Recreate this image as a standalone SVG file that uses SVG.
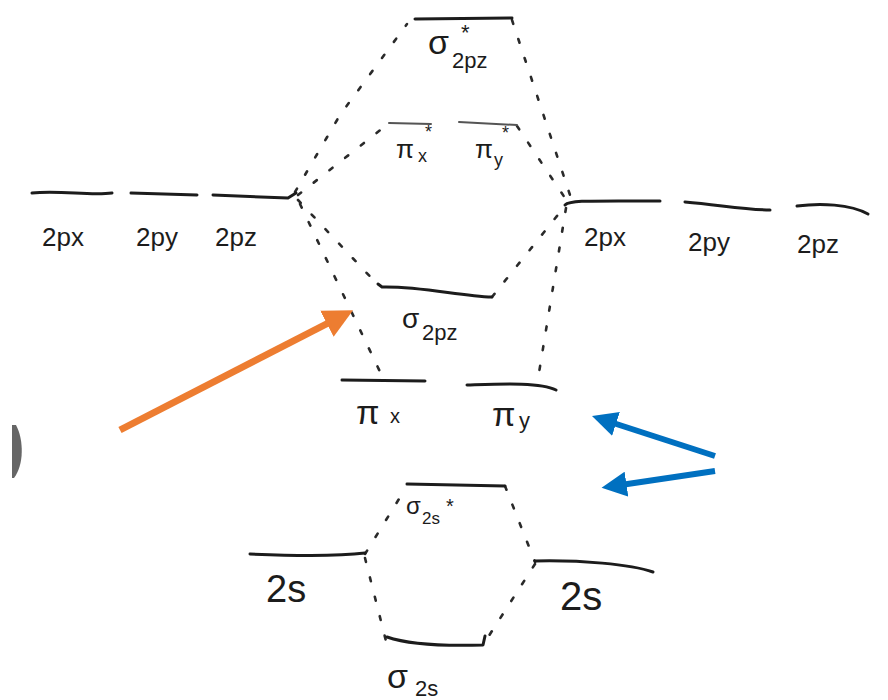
<svg xmlns="http://www.w3.org/2000/svg" width="888" height="700" viewBox="0 0 888 700">
<defs>
<style>
.lvl{fill:none;stroke:#1c1c1c;stroke-width:3;stroke-linecap:round;stroke-linejoin:round}
.lvl-f{fill:none;stroke:#555;stroke-width:2;stroke-linecap:round}
.dot{fill:none;stroke:#2a2a2a;stroke-width:2.6;stroke-linecap:round;stroke-dasharray:4 16}
.t{font-family:"Liberation Sans","DejaVu Sans",sans-serif;fill:#1c1c1c}
</style>
<marker id="ao" viewBox="0 0 10 10" refX="5" refY="5" markerWidth="4.2" markerHeight="4.2" orient="auto" markerUnits="strokeWidth">
<path d="M0,0 L10,5 L0,10 Z" fill="#ED7D31"/>
</marker>
<marker id="ab" viewBox="0 0 10 10" refX="5" refY="5" markerWidth="4.2" markerHeight="4.2" orient="auto" markerUnits="strokeWidth">
<path d="M0,0 L10,5 L0,10 Z" fill="#0070C0"/>
</marker>
</defs>
<rect width="888" height="700" fill="#ffffff"/>
<path d="M16,425 C24,440 24,465 14,478 L12,478 L12,425 Z" fill="#666"/>

<g id="connectors">
<path class="dot" d="M295,192 L340,115 L407,24"/>
<path class="dot" d="M298,195 L388,124"/>
<path class="dot" d="M298,200 L378,285"/>
<path class="dot" d="M300,204 L383,378"/>
<path class="dot" d="M512,20 L570,195"/>
<path class="dot" d="M517,126 L565,198"/>
<path class="dot" d="M492,297 L565,206"/>
<path class="dot" d="M566,208 L537,385"/>
<path class="dot" d="M365,554 L407,486"/>
<path class="dot" d="M505,486 L535,562"/>
<path class="dot" d="M365,558 L387,645"/>
<path class="dot" d="M535,564 L483,645"/>
<line x1="120" y1="430" x2="340" y2="317" stroke="#ED7D31" stroke-width="7" marker-end="url(#ao)"/>
<line x1="715" y1="456" x2="604" y2="420" stroke="#0070C0" stroke-width="6" marker-end="url(#ab)"/>
<line x1="715" y1="471" x2="614" y2="486" stroke="#0070C0" stroke-width="6" marker-end="url(#ab)"/>
</g>

<g id="sigma2pz-star">
<path class="lvl" d="M415,19 L512,18"/>
<text class="t" x="428" y="54" font-size="34">σ</text>
<text class="t" x="452" y="68" font-size="22">2pz</text>
<text class="t" x="461" y="40" font-size="22">*</text>
</g>

<g id="pi-star-x">
<path class="lvl-f" d="M389,123 L431,124"/>
<text class="t" x="396" y="158" font-size="26">π</text>
<text class="t" x="418" y="162" font-size="18">x</text>
<text class="t" x="425" y="138" font-size="18">*</text>
</g>

<g id="pi-star-y">
<path class="lvl-f" d="M459,122 L517,125"/>
<text class="t" x="475" y="158" font-size="26">π</text>
<text class="t" x="494" y="166" font-size="18">y</text>
<text class="t" x="502" y="139" font-size="18">*</text>
</g>

<g id="L-2px">
<path class="lvl" d="M32,193 C60,190 90,196 112,193"/>
<text class="t" x="42" y="246" font-size="26">2px</text>
</g>
<g id="L-2py">
<path class="lvl" d="M131,193 L197,195"/>
<text class="t" x="136" y="246" font-size="26">2py</text>
</g>
<g id="L-2pz">
<path class="lvl" d="M213,195 L288,198 L296,193"/>
<text class="t" x="215" y="246" font-size="26">2pz</text>
</g>

<g id="R-2px">
<path class="lvl" d="M565,205 C570,200 590,201 660,201"/>
<text class="t" x="584" y="246" font-size="26">2px</text>
</g>
<g id="R-2py">
<path class="lvl" d="M685,202 C720,205 745,210 770,210"/>
<text class="t" x="688" y="251" font-size="26">2py</text>
</g>
<g id="R-2pz">
<path class="lvl" d="M797,206 C820,203 850,204 868,214"/>
<text class="t" x="797" y="253" font-size="26">2pz</text>
</g>

<g id="sigma2pz">
<path class="lvl" d="M378,284 L382,287 C420,286 460,296 492,297"/>
<text class="t" x="402" y="328" font-size="28">σ</text>
<text class="t" x="422" y="340" font-size="22">2pz</text>
</g>

<g id="pi-x">
<path class="lvl" d="M342,380 L425,381"/>
<text class="t" x="356" y="424" font-size="34">π</text>
<text class="t" x="390" y="423" font-size="20">x</text>
</g>
<g id="pi-y">
<path class="lvl" d="M467,385 C500,384 540,382 556,390"/>
<text class="t" x="492" y="426" font-size="34">π</text>
<text class="t" x="519" y="428" font-size="22">y</text>
</g>

<g id="sigma2s-star">
<path class="lvl" d="M407,484 L505,486"/>
<text class="t" x="406" y="514" font-size="24">σ</text>
<text class="t" x="422" y="524" font-size="17">2s</text>
<text class="t" x="446" y="513" font-size="20">*</text>
</g>

<g id="L-2s">
<path class="lvl" d="M250,554 C300,556 340,556 365,553"/>
<text class="t" x="266" y="602" font-size="38">2s</text>
</g>
<g id="R-2s">
<path class="lvl" d="M535,561 C580,560 630,564 653,572"/>
<text class="t" x="560" y="610" font-size="40">2s</text>
</g>

<g id="sigma2s">
<path class="lvl" d="M387,637 C410,645 450,646 483,645 L485,636"/>
<text class="t" x="387" y="688" font-size="34">σ</text>
<text class="t" x="415" y="696" font-size="22">2s</text>
</g>
</svg>
